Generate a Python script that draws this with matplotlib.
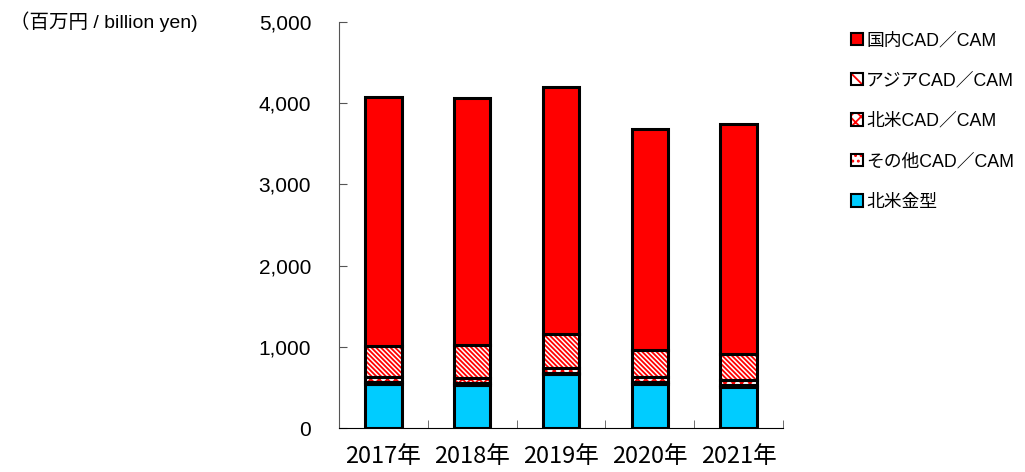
import matplotlib.pyplot as plt
import numpy as np
from matplotlib.patches import Patch
from matplotlib.legend_handler import HandlerTuple

plt.rcParams['font.family'] = ['Liberation Sans', 'Noto Sans CJK JP']
plt.rcParams['hatch.linewidth'] = 1.3

years = ['2017年', '2018年', '2019年', '2020年', '2021年']
na_mold = [545, 530, 660, 545, 505]          # 北米金型
other_cad = [25, 25, 20, 25, 25]             # その他CAD/CAM
na_cad = [55, 60, 60, 55, 55]                # 北米CAD/CAM
asia_cad = [380, 410, 420, 335, 330]         # アジアCAD/CAM
jp_cad = [3075, 3040, 3040, 2725, 2832]      # 国内CAD/CAM

series = [
    ('北米金型', na_mold, '#00ccff', None, None),
    ('その他CAD/CAM', other_cad, 'white', '....', 'red'),
    ('北米CAD/CAM', na_cad, 'white', 'xxxx', 'red'),
    ('アジアCAD/CAM', asia_cad, 'white', '\\' * 7, 'red'),
    ('国内CAD/CAM', jp_cad, '#ff0000', None, None),
]

fig = plt.figure(figsize=(10.25, 4.72), dpi=100)
ax = fig.add_axes([339 / 1025, 44 / 472, 444 / 1025, 406 / 472])

x = np.arange(len(years))
w = 0.41
bottom = np.zeros(len(years))
handles = {}
for name, vals, fc, hatch, hc in series:
    vals = np.array(vals, dtype=float)
    if hatch:
        ax.bar(x, vals, w, bottom=bottom, color=fc, hatch=hatch, edgecolor=hc, linewidth=0, zorder=2)
        ax.bar(x, vals, w, bottom=bottom, fill=False, edgecolor='black', linewidth=2.2, zorder=3)
        handles[name] = (Patch(facecolor=fc, hatch=hatch[:3], edgecolor=hc, linewidth=0),
                         Patch(facecolor='none', edgecolor='black', linewidth=1.5))
    else:
        ax.bar(x, vals, w, bottom=bottom, color=fc, edgecolor='black', linewidth=2.2, zorder=3)
        handles[name] = (Patch(facecolor=fc, edgecolor='black', linewidth=1.5),)
    bottom += vals

ax.set_xlim(-0.5, len(years) - 0.5)
ax.set_ylim(0, 5000)
ax.set_yticks(np.arange(0, 5001, 1000))
ax.set_yticklabels([f'{v:,}' for v in range(0, 5001, 1000)], fontsize=15)
ax.set_xticks(x)
ax.set_xticklabels(years, fontsize=17, family=['Noto Sans CJK JP'])
ax.set_xticks(np.arange(-0.5, len(years), 1), minor=True)
ax.tick_params(axis='x', which='major', length=0, pad=12)
ax.tick_params(axis='x', which='minor', direction='in', length=6, color='#555555')
ax.tick_params(axis='y', direction='in', length=6, color='#555555', pad=20)
for s in ['top', 'right']:
    ax.spines[s].set_visible(False)
ax.spines['left'].set_color('#555555')
ax.spines['bottom'].set_color('black')

fig.text(10 / 1025, 1 - 22 / 472, '（百万円 / billion yen)', fontsize=14, va='center', ha='left')

order = ['国内CAD/CAM', 'アジアCAD/CAM', '北米CAD/CAM', 'その他CAD/CAM', '北米金型']
labels = [n.replace('/', '／') for n in order]
fig.legend([handles[n] for n in order], labels, handler_map={tuple: HandlerTuple(ndivide=1)},
           loc='upper left', bbox_to_anchor=(835 / 1025, 1 - 16 / 472), frameon=False,
           handlelength=0.7, handleheight=0.7, handletextpad=0.15,
           labelspacing=1.32, prop={'family': ['Liberation Sans', 'Noto Sans CJK JP'], 'size': 12.8})

fig.savefig('out.png', dpi=100)
